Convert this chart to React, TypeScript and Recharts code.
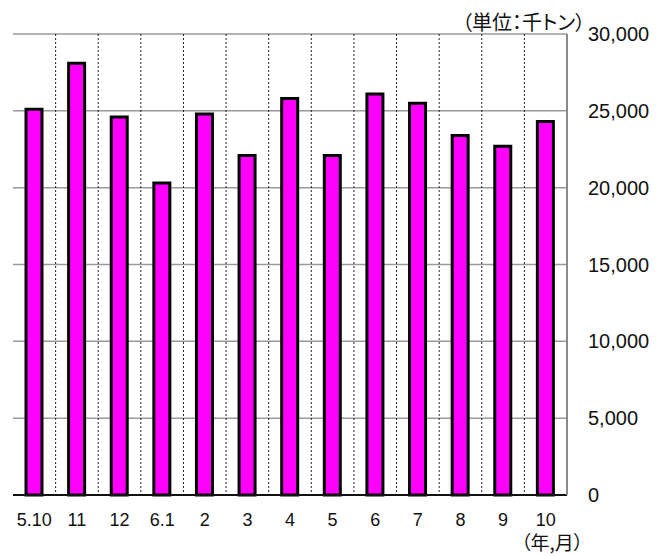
import React from 'react';
import { BarChart, Bar, XAxis, YAxis, CartesianGrid } from 'recharts';

const categories = ['5.10', '11', '12', '6.1', '2', '3', '4', '5', '6', '7', '8', '9', '10'];
const values = [25100, 28100, 24600, 20300, 24800, 22100, 25800, 22100, 26100, 25500, 23400, 22700, 24300];
const yTicks = [0, 5000, 10000, 15000, 20000, 25000, 30000];
const unitLabel = '（単位：千トン）';
const xUnitLabel = '（年,月）';

const data = categories.map((c, i) => ({ name: c, value: values[i] }));

const fmt = (v: number) => v.toLocaleString('en-US');

export default function App() {
  return (
    <div style={{ position: 'relative', width: 656, height: 548, fontFamily: '"Liberation Sans", Arial, sans-serif' }}>
      <BarChart
        width={656}
        height={548}
        data={data}
        margin={{ top: 26, right: 0, left: 5, bottom: 21 }}
      >
        <CartesianGrid
          yAxisId="right"
          vertical={false}
          stroke="#9a9a9a"
          strokeWidth={1.5}
        />
        <CartesianGrid
          yAxisId="right"
          horizontal={false}
          stroke="#222"
          strokeWidth={1}
          strokeDasharray="2 2"
          verticalCoordinatesGenerator={(props: any) => {
            const off = props.offset;
            const n = categories.length;
            const arr: number[] = [];
            for (let i = 1; i < n; i++) arr.push(off.left + (i * off.width) / n);
            return arr;
          }}
        />
        <XAxis
          dataKey="name"
          tickLine={false}
          tickSize={0}
          tickMargin={18}
          height={40}
          axisLine={{ stroke: '#111', strokeWidth: 2 }}
          tick={{ fill: '#111', fontSize: 18 }}
          interval={0}
        />
        <YAxis
          yAxisId="left"
          orientation="left"
          width={0}
          domain={[0, 30000]}
          ticks={yTicks}
          tick={false}
          tickSize={-7}
          tickLine={{ stroke: '#333', strokeWidth: 1.5 }}
          axisLine={{ stroke: '#333', strokeWidth: 2 }}
        />
        <YAxis
          yAxisId="right"
          orientation="right"
          width={97}
          domain={[0, 30000]}
          ticks={yTicks}
          tickFormatter={fmt}
          tickLine={false}
          tickSize={0}
          tickMargin={21}
          axisLine={{ stroke: '#8a8a8a', strokeWidth: 2 }}
          tick={{ fill: '#111', fontSize: 20, textAnchor: 'start' }}
        />
        <Bar
          yAxisId="right"
          dataKey="value"
          fill="#ff00ff"
          stroke="#000"
          strokeWidth={3}
          barSize={16}
          isAnimationActive={false}
        />
      </BarChart>
      <div
        style={{
          position: 'absolute',
          left: 454,
          top: 1,
          fontSize: 20,
          fontFamily: '"Noto Sans CJK JP", sans-serif',
          fontFeatureSettings: '"palt"',
          color: '#111',
          whiteSpace: 'nowrap',
          lineHeight: '26px',
        }}
      >
        {unitLabel}
      </div>
      <div
        style={{
          position: 'absolute',
          left: 513,
          top: 524,
          fontSize: 19,
          fontFamily: '"Noto Sans CJK JP", sans-serif',
          fontFeatureSettings: '"palt"',
          color: '#111',
          whiteSpace: 'nowrap',
          lineHeight: '19px',
        }}
      >
        {xUnitLabel}
      </div>
    </div>
  );
}
